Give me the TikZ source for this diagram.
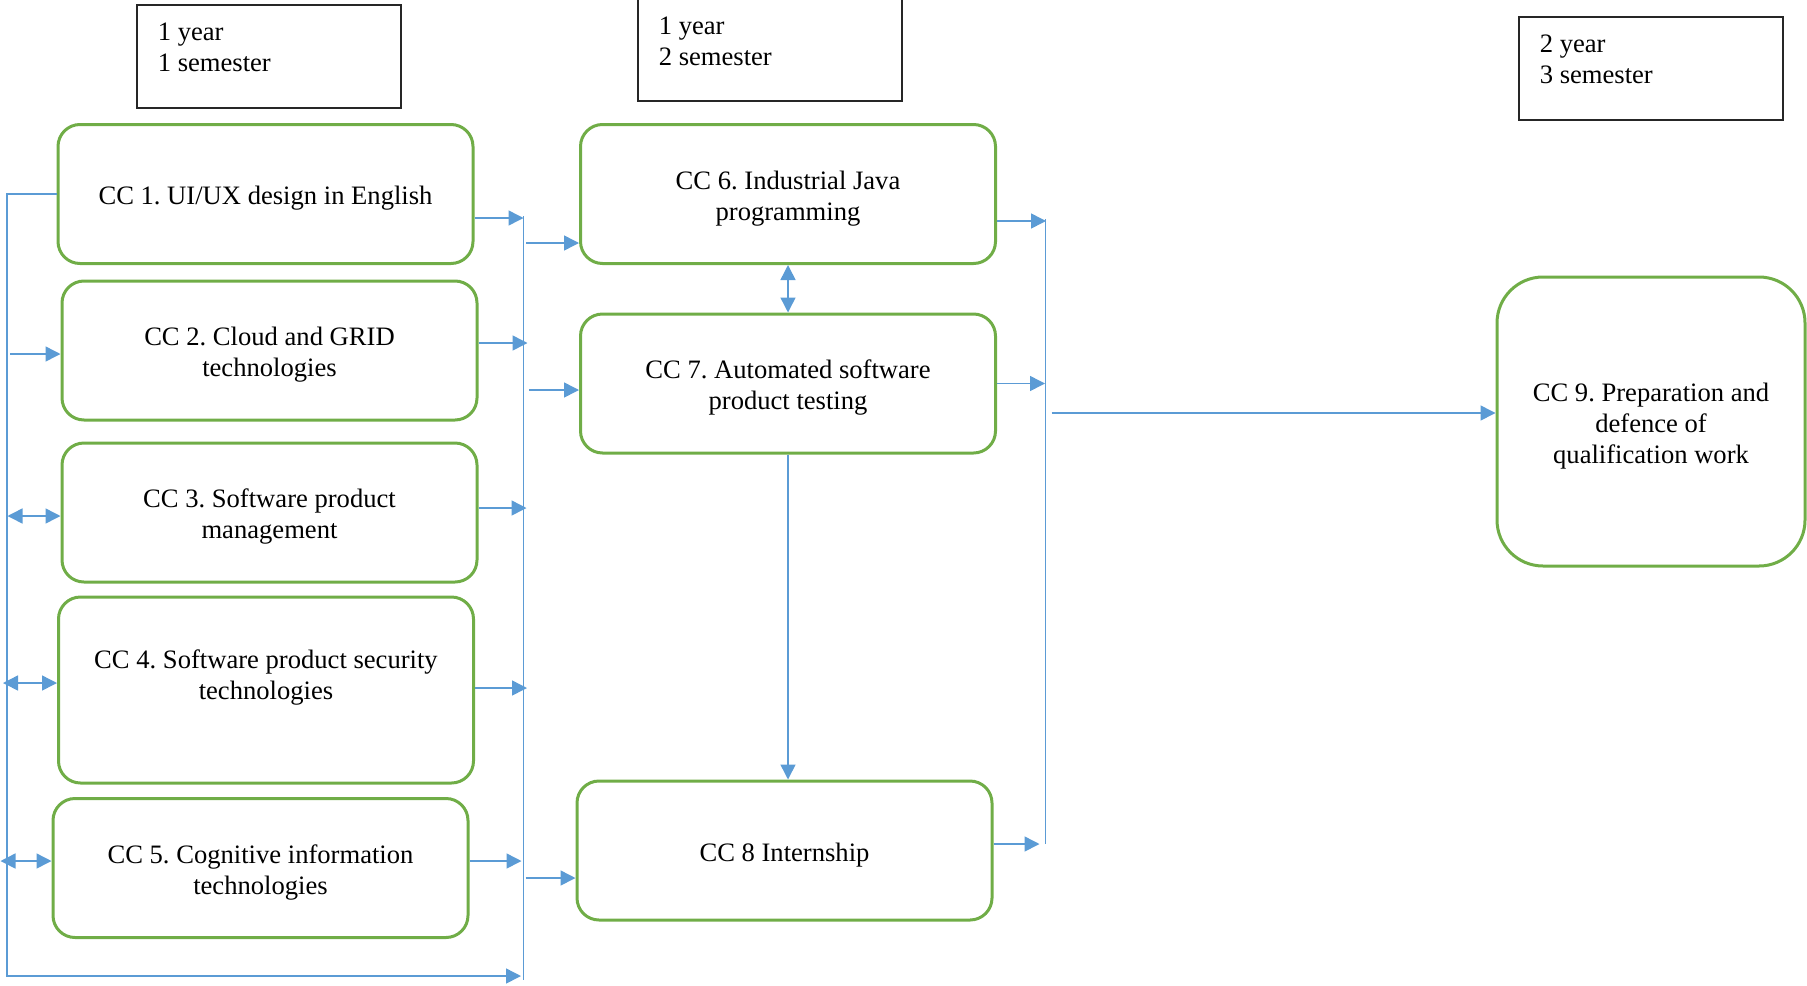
\documentclass[tikz,border=0pt]{standalone}
\usepackage{fontspec}
\setmainfont{Liberation Serif}
\frenchspacing
\usetikzlibrary{arrows.meta,calc}
\definecolor{ccgreen}{HTML}{70AD47}
\definecolor{ccblue}{HTML}{5B9BD5}
\newcommand{\cctop}{\rule{0pt}{13.7pt}}
\tikzset{cc/.style={draw=ccgreen,line width=1.5pt,rounded corners=11pt,align=center,inner sep=0pt,minimum width=207.5pt,minimum height=69.5pt,font=\fontsize{13.3}{15.5}\selectfont},
yr/.style={draw=black!85,line width=0.6pt,minimum width=132pt,minimum height=51.5pt,inner sep=0pt},
yt/.style={anchor=north west,align=left,inner sep=0pt,font=\fontsize{13.3}{15.5}\selectfont},
ln/.style={draw=ccblue,line width=0.75pt},
arr/.style={ln,-{Triangle[length=7.5pt,width=7.5pt]}},
dar/.style={ln,{Triangle[length=7.5pt,width=7.5pt]}-{Triangle[length=7.5pt,width=7.5pt]}}}
\begin{document}
\begin{tikzpicture}[x=0.5pt,y=-0.5pt]
  \useasboundingbox (0,0) rectangle (1807,985);
  \node[yr] (y1) at (269,56.5) {};
  \node[yr] (y2) at (770,49.5) {};
  \node[yr] (y3) at (1651,68.5) {};
  \node[yt] (y1t) at ($(y1.north west)+(21,18)$) {1 year\\1 semester};
  \node[yt] (y2t) at ($(y2.north west)+(21,19)$) {1 year\\2 semester};
  \node[yt] (y3t) at ($(y3.north west)+(21,18)$) {2 year\\3 semester};
  \node[cc] (cc1) at (265.5,194) {\cctop CC 1. UI/UX design in English};
  \node[cc] (cc2) at (269.5,350.5) {\cctop CC 2. Cloud and GRID\\technologies};
  \node[cc] (cc3) at (269.5,512.5) {\cctop CC 3. Software product\\management};
  \node[cc, minimum height=93pt] (cc4) at (266,690) {CC 4. Software product security\\technologies\\~};
  \node[cc] (cc5) at (260.5,868) {\cctop CC 5. Cognitive information\\technologies};
  \node[cc] (cc6) at (788,194) {\cctop CC 6. Industrial Java\\programming};
  \node[cc] (cc7) at (788,383.5) {\cctop CC 7. Automated software\\product testing};
  \node[cc] (cc8) at (784.5,850.5) {\cctop CC 8 Internship};
  \node[cc, minimum width=154pt, minimum height=144.5pt, rounded corners=23pt] (cc9) at (1651,421.5) {\cctop CC 9. Preparation and\\defence of\\qualification work};
  \draw[arr] (cc1.west) -| (7,976) -- (521,976);
  \draw[ln] (523.5,216) -- (523.5,980);
  \draw[ln] (1045.5,219) -- (1045.5,844);
  \draw[arr] ($(cc2.west)+(-50.5,3.5)$) -- +(50.5,0);
  \draw[dar] ($(cc3.west)+(-53,3.5)$) -- +(53,0);
  \draw[dar] ($(cc4.west)+(-54,-7)$) -- +(54,0);
  \draw[dar] ($(cc5.west)+(-51,-7)$) -- +(51,0);
  \draw[arr] ($(cc1.east)+(0,24)$) -- +(49,0);
  \draw[arr] ($(cc2.east)+(0,-7.5)$) -- +(49,0);
  \draw[arr] ($(cc3.east)+(0,-4.5)$) -- +(48,0);
  \draw[arr] ($(cc4.east)+(0,-2)$) -- +(52,0);
  \draw[arr] ($(cc5.east)+(0,-7)$) -- +(52,0);
  \draw[arr] ($(cc6.west)+(-53,49)$) -- +(53,0);
  \draw[arr] ($(cc7.west)+(-50,6.5)$) -- +(50,0);
  \draw[arr] ($(cc8.west)+(-50,27.5)$) -- +(50,0);
  \draw[dar] (cc6.south) -- (cc7.north);
  \draw[arr] (cc7.south) -- (cc7.south |- cc8.north);
  \draw[arr] ($(cc6.east)+(0,27)$) -- +(49,0);
  \draw[arr] (cc7.east) -- +(48,0);
  \draw[arr] ($(cc8.east)+(0,-6.5)$) -- +(46,0);
  \draw[arr] ($(cc9.west)+(-444,-8.5)$) -- +(444,0);
\end{tikzpicture}
\end{document}
